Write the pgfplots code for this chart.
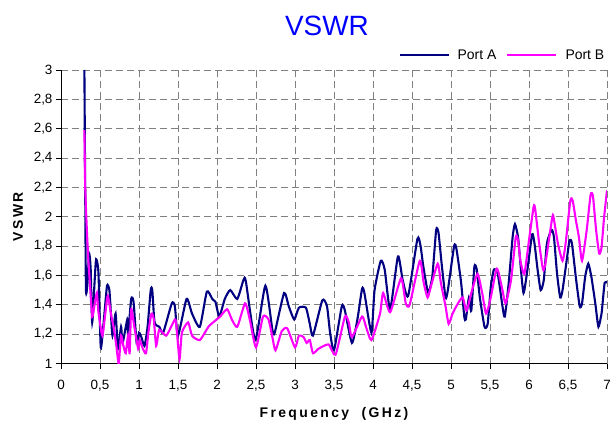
\documentclass[border=0pt]{standalone}
\usepackage{fontspec}
\setmainfont{Liberation Sans}
\newfontfamily\labelfont[LetterSpace=17]{Liberation Sans}
\usepackage{pgfplots}
\pgfplotsset{compat=1.18}
\definecolor{portA}{RGB}{0,0,128}
\definecolor{portB}{RGB}{255,0,255}
\definecolor{titleblue}{RGB}{0,0,255}
\definecolor{gridgray}{RGB}{128,128,128}
\begin{document}
\begin{tikzpicture}
\path[use as bounding box] (-61bp,-64.5bp) rectangle (549bp,363.5bp);
\begin{axis}[
  at={(0,0)}, anchor=south west,
  scale only axis, width=546bp, height=293.5bp,
  xmin=0, xmax=7, ymin=1, ymax=3,
  xtick={0,0.5,1,1.5,2,2.5,3,3.5,4,4.5,5,5.5,6,6.5,7},
  ytick={1,1.2,1.4,1.6,1.8,2,2.2,2.4,2.6,2.8,3},
  axis lines=left,
  axis line style={-, black, line width=0.9bp},
  tick align=outside,
  major tick length=5bp,
  tick style={black, line width=0.8bp},
  grid=major,
  grid style={gridgray, line width=0.8bp, dash pattern=on 7bp off 4bp},
  /pgf/number format/.cd, use comma, 1000 sep={}, assume math mode=true,
  /pgfplots/.cd,
  ticklabel style={font=\fontsize{13.5}{16}\selectfont},
  xticklabel style={yshift=-8bp},
  title={VSWR},
  title style={font=\fontsize{28}{32}\selectfont, color=titleblue,
    at={(axis description cs:0.487,1.0988)}, anchor=base},
  xlabel={Frequency\ \ (GHz)},
  xlabel style={font=\labelfont\bfseries\fontsize{14}{16}\selectfont,
    at={(axis description cs:0.5,-0.17)}, anchor=center},
  ylabel={VSWR},
  ylabel style={font=\labelfont\bfseries\fontsize{14}{16}\selectfont,
    at={(axis description cs:-0.0788,0.5)}, anchor=center},
  legend columns=2,
  legend style={draw=none, fill=none, inner sep=0pt, outer sep=0pt,
    at={(axis description cs:0.995,1.05)}, anchor=east,
    font=\fontsize{14}{16}\selectfont,
    nodes={inner sep=0pt},
    /tikz/every odd column/.append style={column sep=8bp},
    /tikz/every even column/.append style={column sep=10bp}},
  legend cell align=left,
  legend image code/.code={\draw[#1] (0bp,0bp) -- (49bp,0bp);},
]
\addplot[portA, line width=2.1bp, smooth, tension=0.35] coordinates {
(0.300,3.0)(0.305,2.6)(0.31,2.21)(0.32,1.50)(0.34,1.55)(0.36,1.75)(0.38,1.65)(0.40,1.28)(0.43,1.55)(0.45,1.71)(0.48,1.62)(0.51,1.11)(0.55,1.30)(0.59,1.53)(0.62,1.50)(0.64,1.34)(0.66,1.19)(0.70,1.34)(0.73,1.10)(0.77,1.25)(0.79,1.14)(0.85,1.30)(0.86,1.20)(0.90,1.44)(0.93,1.42)(0.97,1.14)(1.00,1.21)(1.03,1.18)(1.07,1.12)(1.11,1.25)(1.15,1.50)(1.17,1.50)(1.20,1.28)(1.26,1.25)(1.31,1.21)(1.42,1.41)(1.46,1.39)(1.50,1.19)(1.61,1.44)(1.68,1.34)(1.78,1.25)(1.87,1.49)(1.94,1.44)(1.98,1.42)(2.03,1.32)(2.10,1.44)(2.17,1.50)(2.26,1.44)(2.34,1.57)
(2.37,1.56)(2.49,1.16)(2.62,1.53)(2.71,1.23)(2.74,1.21)(2.86,1.48)(2.92,1.39)(2.99,1.30)(3.05,1.38)(3.14,1.38)(3.19,1.27)(3.23,1.19)(3.35,1.43)(3.41,1.39)(3.45,1.21)(3.50,1.09)(3.60,1.39)(3.64,1.36)(3.73,1.14)(3.80,1.30)(3.86,1.51)(3.89,1.48)(3.98,1.21)(4.02,1.50)(4.10,1.70)(4.15,1.64)(4.22,1.37)(4.32,1.73)(4.38,1.57)(4.45,1.46)(4.57,1.85)(4.61,1.80)(4.64,1.68)(4.68,1.55)(4.71,1.48)(4.76,1.59)(4.81,1.91)(4.84,1.89)(4.88,1.68)(4.93,1.45)(4.96,1.50)(5.04,1.80)(5.07,1.78)(5.13,1.55)(5.17,1.32)(5.19,1.30)(5.23,1.45)(5.26,1.36)(5.30,1.66)(5.33,1.64)(5.37,1.45)(5.43,1.25)(5.47,1.27)(5.51,1.52)(5.55,1.64)(5.60,1.61)(5.66,1.39)(5.69,1.32)(5.74,1.55)(5.79,1.86)(5.82,1.95)(5.86,1.86)(5.89,1.68)(5.93,1.48)(5.98,1.64)(6.04,1.88)(6.07,1.82)(6.11,1.64)(6.15,1.50)(6.19,1.57)(6.23,1.82)(6.29,1.91)(6.32,1.86)(6.36,1.61)(6.40,1.45)(6.43,1.50)(6.49,1.73)(6.52,1.84)(6.55,1.82)(6.60,1.59)(6.65,1.39)(6.68,1.41)(6.72,1.59)(6.76,1.68)(6.80,1.59)(6.85,1.41)(6.89,1.25)(6.93,1.34)(6.94,1.39)(6.97,1.55)(7.00,1.55)
};
\addlegendentry{Port A}
\addplot[portB, line width=2.1bp, smooth, tension=0.35] coordinates {
(0.300,2.59)(0.31,2.21)(0.33,1.93)(0.35,1.71)(0.37,1.55)(0.40,1.32)(0.43,1.40)(0.46,1.48)(0.48,1.35)(0.53,1.19)(0.57,1.35)(0.60,1.46)(0.64,1.34)(0.68,1.23)(0.71,1.12)(0.74,1.00)(0.77,1.19)(0.80,1.12)(0.83,1.07)(0.86,1.19)(0.88,1.07)(0.90,1.37)(0.94,1.25)(0.99,1.10)(1.01,1.16)(1.05,1.10)(1.09,1.07)(1.12,1.21)(1.16,1.34)(1.19,1.30)(1.22,1.12)(1.26,1.23)(1.35,1.19)(1.46,1.30)(1.48,1.25)(1.52,1.03)(1.55,1.21)(1.63,1.28)(1.68,1.19)(1.78,1.16)(1.89,1.25)(1.95,1.28)(2.04,1.32)(2.13,1.37)(2.19,1.30)(2.26,1.25)(2.36,1.41)
(2.42,1.30)(2.50,1.11)(2.59,1.32)(2.66,1.30)(2.71,1.18)(2.75,1.09)(2.83,1.22)(2.90,1.24)(3.00,1.11)(3.05,1.19)(3.11,1.18)(3.15,1.14)(3.19,1.16)(3.23,1.07)(3.30,1.10)(3.43,1.13)(3.52,1.06)(3.64,1.32)(3.69,1.28)(3.73,1.18)(3.86,1.32)(3.91,1.25)(3.98,1.16)(4.09,1.34)(4.13,1.48)(4.22,1.35)(4.36,1.58)(4.42,1.41)(4.47,1.40)(4.60,1.70)(4.65,1.55)(4.70,1.45)(4.74,1.52)(4.83,1.68)(4.87,1.55)(4.93,1.39)(4.97,1.27)(5.02,1.34)(5.09,1.41)(5.15,1.45)(5.20,1.36)(5.26,1.48)(5.34,1.61)(5.40,1.48)(5.45,1.34)(5.51,1.45)(5.58,1.64)(5.61,1.62)(5.66,1.50)(5.70,1.41)(5.77,1.57)(5.83,1.86)(5.86,1.84)(5.89,1.70)(5.94,1.61)(6.00,1.84)(6.06,2.07)(6.08,2.05)(6.13,1.82)(6.18,1.64)(6.21,1.68)(6.30,2.00)(6.32,1.98)(6.37,1.82)(6.43,1.70)(6.47,1.82)(6.53,2.11)(6.56,2.11)(6.60,1.98)(6.64,1.86)(6.68,1.70)(6.74,1.91)(6.79,2.15)(6.82,2.14)(6.86,1.91)(6.90,1.75)(6.93,1.79)(6.96,1.98)(7.00,2.18)
};
\addlegendentry{Port B}
\end{axis}
\end{tikzpicture}
\end{document}
